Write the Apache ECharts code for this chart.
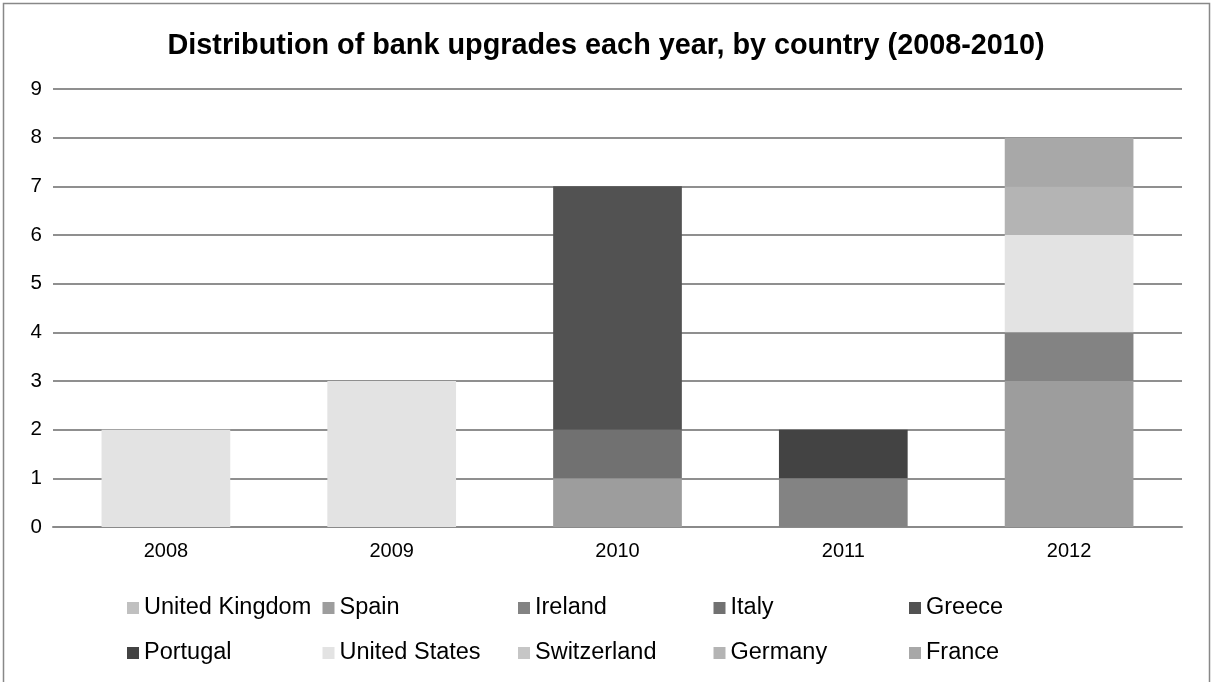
<!DOCTYPE html>
<html>
<head>
<meta charset="utf-8">
<title>Distribution of bank upgrades each year, by country</title>
<script src="https://cdn.jsdelivr.net/npm/echarts@6/dist/echarts.min.js"></script>
<style>
  html, body { margin: 0; padding: 0; background: #fff; }
  #chart { width: 1212px; height: 682px; }
</style>
</head>
<body>
<div id="chart"></div>
<script>
// Years on the category axis
const years = ['2008', '2009', '2010', '2011', '2012'];

// Number of bank upgrades per country and year
const unitedKingdom = [0, 0, 0, 0, 0];
const spain         = [0, 0, 1, 0, 3];
const ireland       = [0, 0, 0, 1, 1];
const italy         = [0, 0, 1, 0, 0];
const greece        = [0, 0, 5, 0, 0];
const portugal      = [0, 0, 0, 1, 0];
const unitedStates  = [2, 3, 0, 0, 2];
const switzerland   = [0, 0, 0, 0, 0];
const germany       = [0, 0, 0, 0, 1];
const france        = [0, 0, 0, 0, 1];

// Value-axis tick labels
const yTicks = [0, 1, 2, 3, 4, 5, 6, 7, 8, 9];

const countries = [
  { name: 'United Kingdom', data: unitedKingdom, color: '#c0c0c0' },
  { name: 'Spain',          data: spain,         color: '#9d9d9d' },
  { name: 'Ireland',        data: ireland,       color: '#838383' },
  { name: 'Italy',          data: italy,         color: '#717171' },
  { name: 'Greece',         data: greece,        color: '#525252' },
  { name: 'Portugal',       data: portugal,      color: '#434343' },
  { name: 'United States',  data: unitedStates,  color: '#e3e3e3' },
  { name: 'Switzerland',    data: switzerland,   color: '#c6c6c6' },
  { name: 'Germany',        data: germany,       color: '#b4b4b4' },
  { name: 'France',         data: france,        color: '#a8a8a8' }
];

const FONT = '"Liberation Sans", Arial, sans-serif';

// Legend: a 5 x 2 grid of fixed columns, one legend component per entry
const LEGEND_COLS = [127, 322.5, 518, 713.5, 909];
const LEGEND_ROWS = [596, 641];
const legends = countries.map((c, i) => ({
  data: [c.name],
  left: LEGEND_COLS[i % 5],
  top: LEGEND_ROWS[Math.floor(i / 5)],
  padding: 0,
  itemWidth: 12, itemHeight: 12, itemGap: 0,
  icon: 'rect',
  textStyle: { fontFamily: FONT, fontSize: 23.5, color: '#000', padding: [0, 0, 0, 0] },
  selectedMode: false
}));

const chart = echarts.init(document.getElementById('chart'), null, { renderer: 'canvas' });

chart.setOption({
  animation: false,
  backgroundColor: '#ffffff',
  title: {
    text: 'Distribution of bank upgrades each year, by country (2008-2010)',
    left: 'center',
    top: 27,
    textStyle: { fontFamily: FONT, fontSize: 28.8, fontWeight: 'bold', color: '#000' }
  },
  graphic: [{
    type: 'rect',
    shape: { x: 3.5, y: 3.5, width: 1206, height: 700 },
    style: { fill: 'none', stroke: '#888888', lineWidth: 1.5 },
    silent: true
  }],
  legend: legends,
  grid: { left: 53, right: 30, top: 89, bottom: 155, containLabel: false },
  xAxis: {
    type: 'category',
    data: years,
    axisLine: { show: true, lineStyle: { color: '#8a8a8a', width: 2 } },
    axisTick: { show: false },
    axisLabel: { fontFamily: FONT, fontSize: 20, color: '#000', margin: 14 }
  },
  yAxis: {
    type: 'value',
    min: yTicks[0],
    max: yTicks[yTicks.length - 1],
    interval: 1,
    axisLine: { show: false },
    axisTick: { show: false },
    axisLabel: { fontFamily: FONT, fontSize: 20.5, color: '#000', margin: 11 },
    splitLine: { show: true, lineStyle: { color: '#8f8f8f', width: 2 } }
  },
  series: countries.map(c => ({
    name: c.name,
    type: 'bar',
    stack: 'total',
    data: c.data,
    barWidth: '57%',
    itemStyle: { color: c.color },
    emphasis: { disabled: true }
  }))
});
</script>
</body>
</html>
